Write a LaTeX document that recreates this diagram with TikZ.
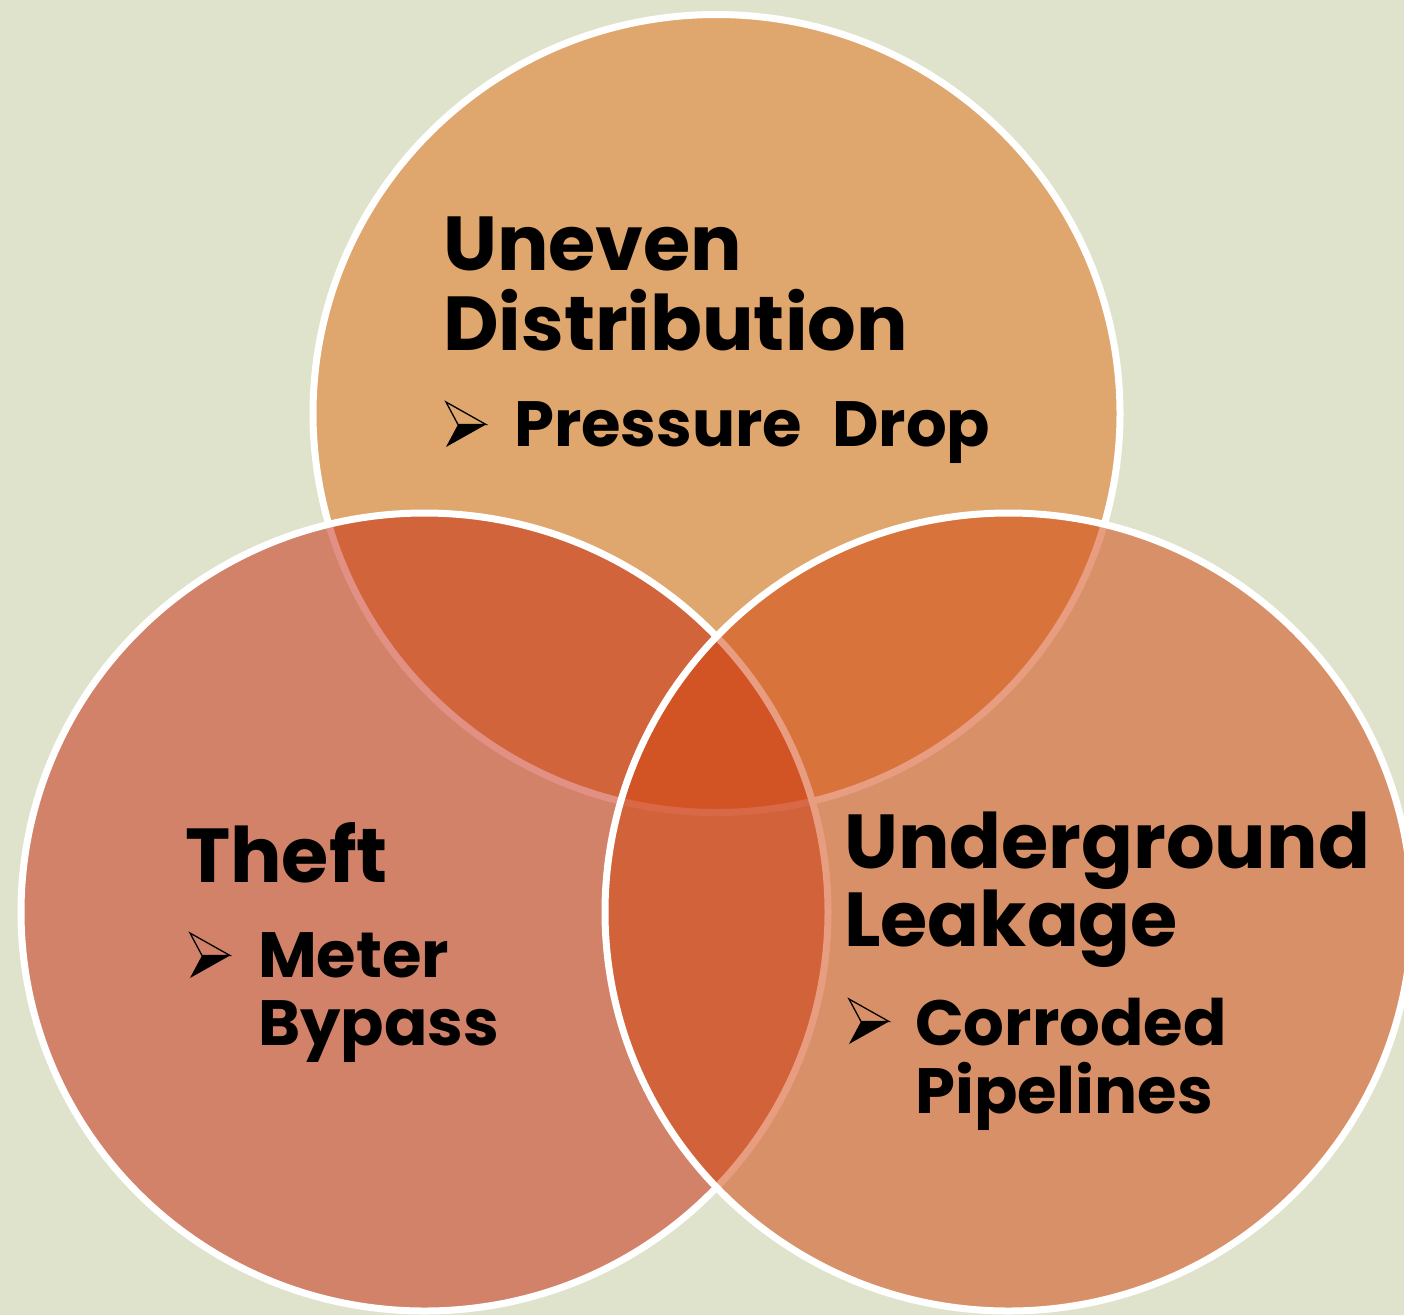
\documentclass[tikz,border=0pt]{standalone}
\usepackage{fontspec}
\setmainfont{Poppins}[WordSpace=2.2]
\definecolor{bgc}{RGB}{223,227,203}
\definecolor{topc}{RGB}{223,166,110}
\definecolor{leftc}{RGB}{197,35,9}
\definecolor{rightc}{RGB}{211,69,15}
\begin{document}
\begin{tikzpicture}[x=1pt,y=-1pt,
  venn/.style={draw=white, line width=7pt},
  title/.style={inner sep=0pt, anchor=base west, font=\fontsize{76.5}{80}\selectfont\bfseries},
  sub/.style={inner sep=0pt, anchor=base west, font=\fontsize{64}{68}\selectfont\bfseries},
  bullet/.pic={
    \draw[black, line width=1.3pt, line join=miter] (0,0) -- (40,22.5) -- (12,22.5) -- cycle;
    \fill[black] (12,22.5) -- (40,22.5) -- (0,45) -- cycle;
  }]
\fill[bgc] (0,0) rectangle (1404,1315);
\useasboundingbox (0,0) rectangle (1404,1315);
\clip (0,0) rectangle (1404,1315);
\path[venn, fill=topc] (716.5,413.5) ellipse [x radius=403.5pt, y radius=399pt];
\path[venn, fill=leftc, fill opacity=0.5] (424.5,912) ellipse [x radius=403.5pt, y radius=399pt];
\path[venn, fill=rightc, fill opacity=0.52] (1008.5,912) ellipse [x radius=403.5pt, y radius=399pt];
% top circle text
\node[title] (ta) at (443,270) {Uneven};
\node[title] (tb) at (443,350) {Distribution};
\pic at (446,402) {bullet};
\node[sub] (tc) at (514,446) {Pressure Drop};
% left circle text
\node[title] (la) at (185,882) {Theft};
\pic at (190,933) {bullet};
\node[sub] (lb) at (258,977) {Meter};
\node[sub] (lc) at (258,1045) {Bypass};
% right circle text
\node[title] (ra) at (844,868) {Underground};
\node[title] (rb) at (844,946) {Leakage};
\pic at (849,999) {bullet};
\node[sub] (rc) at (915,1045) {Corroded};
\node[sub] (rd) at (915,1113) {Pipelines};
\end{tikzpicture}
\end{document}
